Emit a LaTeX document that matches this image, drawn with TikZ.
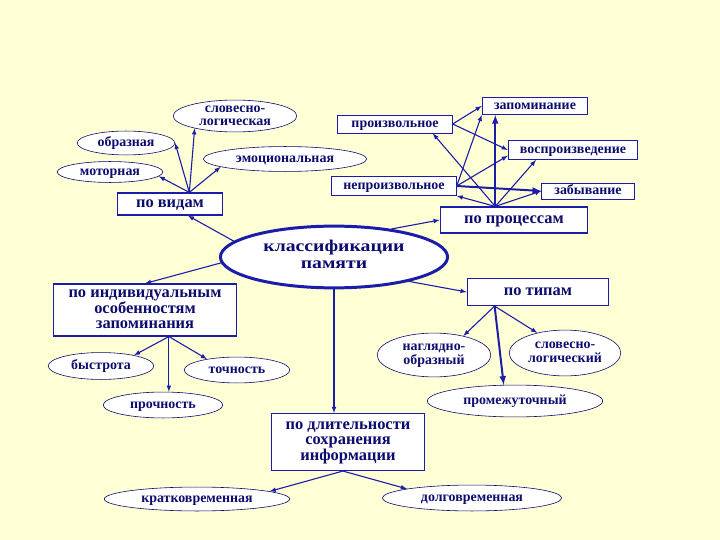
\documentclass[tikz,border=0pt]{standalone}
\usepackage{fontspec}
\setmainfont{Liberation Serif}
\newfontfamily\widefont{Liberation Serif}[FakeStretch=1.2]
\usepackage{xcolor}
\usetikzlibrary{shapes.geometric,positioning,calc,arrows.meta}

\definecolor{bgyel}{RGB}{255,255,214}
\definecolor{lineblue}{RGB}{28,28,170}
\definecolor{txtnavy}{RGB}{12,12,110}

\newcommand{\smallfnt}{\bfseries\fontsize{14}{13}\selectfont}
\newcommand{\medfnt}{\bfseries\fontsize{16.5}{15}\selectfont}
\newcommand{\rootfnt}{\widefont\bfseries\fontsize{16.5}{17}\selectfont}
\newcommand{\stk}[1]{\begin{tabular}{@{}c@{}}#1\end{tabular}}

\tikzset{
  rbox/.style={draw=lineblue, line width=1.3pt, fill=white, inner sep=0pt,
    text=txtnavy, font=\medfnt, text height=7.6bp, text depth=0pt},
  sbox/.style={draw=lineblue, line width=0.9pt, fill=white, inner sep=0pt,
    text=txtnavy, font=\smallfnt, text height=6.4bp, text depth=0pt},
  oval/.style={ellipse, draw=txtnavy, line width=0.6pt, fill=white, inner sep=0pt,
    text=txtnavy, font=\smallfnt, text height=6.4bp, text depth=0pt},
  root/.style={ellipse, draw=lineblue, line width=3pt, fill=white, inner sep=0pt,
    text=txtnavy, font=\rootfnt},
  stack/.style={text height={}, text depth={}, inner ysep=-3bp},
  arr/.style={draw=lineblue, line width=1.1pt, ->, >=latex},
  fat/.style={line width=2pt}
}

\begin{document}
\begin{tikzpicture}[x=1bp, y=-1bp]
  \fill[bgyel] (0,0) rectangle (720,540);
  \useasboundingbox (0,0) rectangle (720,540);

  % Centre
  \node[root, minimum width=228, minimum height=62] (cls) at (334,257) {\stk{классификации\\памяти}};

  % Kinds
  \node[rbox, minimum width=105, minimum height=22] (vid) at (170,204) {по видам};
  \node[oval, stack, minimum width=124, minimum height=32] (slv) at (235,116) {\stk{словесно-\\логическая}};
  \node[oval, minimum width=98, minimum height=24] (obr) at (126,143) {образная};
  \node[oval, minimum width=106, minimum height=21] (mot) at (110,172) {моторная};
  \node[oval, minimum width=164, minimum height=25] (emo) at (285,159) {эмоциональная};
  \draw[arr] (vid.31) -- (mot.-5);
  \draw[arr] (vid.31) -- (obr.east);
  \draw[arr] (vid.31) -- (slv.197);
  \draw[arr] (vid.31) -- (emo.187);

  % Processes
  \node[sbox, minimum width=115, minimum height=18] (arb) at (395,124) {произвольное};
  \node[sbox, minimum width=106, minimum height=17] (zap) at (535,106) {запоминание};
  \node[sbox, minimum width=130, minimum height=19] (vos) at (573,150) {воспроизведение};
  \node[sbox, minimum width=125, minimum height=19] (nep) at (394,186) {непроизвольное};
  \node[sbox, minimum width=93, minimum height=16] (zab) at (588,191) {забывание};
  \node[rbox, minimum width=148, minimum height=26] (prc) at (514,220) {по процессам};
  \draw[arr] (prc.144) -- (arb.-14);
  \draw[arr, fat] (prc.144) -- (zap.south -| prc.144);
  \draw[arr] (prc.144) -- (vos.195);
  \draw[arr] (prc.144) -- (zab.west);
  \draw[arr] (prc.144) -- (nep.south east);
  \draw[arr] (arb.east) -- (zap.west);
  \draw[arr] (arb.east) -- (vos.west);
  \draw[arr] (nep.east) -- (zap.south west);
  \draw[arr] (nep.east) -- (vos.185);
  \draw[arr, fat] (nep.east) -- (zab.west);

  % Individual features
  \node[rbox, stack, minimum width=184, minimum height=52] (ind) at (145,310) {\stk{по индивидуальным\\особенностям\\запоминания}};
  \node[oval, minimum width=106, minimum height=27] (bys) at (101,366) {быстрота};
  \node[oval, minimum width=106, minimum height=26] (toc) at (237,370) {точность};
  \node[oval, minimum width=120, minimum height=26] (pro) at (163,405) {прочность};
  \draw[arr] (ind.-48.5) -- (bys.18);
  \draw[arr] (ind.-48.5) -- (toc.160);
  \draw[arr] (ind.-48.5) -- (pro.north -| ind.-48.5);

  % Types
  \node[rbox, minimum width=142, minimum height=27] (typ) at (538,292) {по типам};
  \node[oval, stack, minimum width=114, minimum height=44] (nag) at (434,355) {\stk{наглядно-\\образный}};
  \node[oval, stack, minimum width=112, minimum height=46] (slg) at (565,353) {\stk{словесно-\\логический}};
  \node[oval, minimum width=176, minimum height=32] (prm) at (515,401) {промежуточный};
  \draw[arr] (typ.198.6) -- (nag.33);
  \draw[arr] (typ.198.6) -- (slg.144);
  \draw[arr, fat] (typ.198.6) -- (prm.125);

  % Duration
  \node[rbox, stack, minimum width=153, minimum height=57] (dlt) at (348,442) {\stk{по длительности\\сохранения\\информации}};
  \node[oval, minimum width=186, minimum height=24] (krt) at (197,499) {кратковременная};
  \node[oval, minimum width=180, minimum height=26] (dlg) at (472,498) {долговременная};
  \draw[arr] (dlt.-100) -- (krt.6.5);
  \draw[arr] (dlt.-100) -- (dlg.172);

  % Links from the centre
  \draw[arr] (cls.171) -- (vid.-33);
  \draw[arr] (cls.183) -- (ind.north);
  \draw[arr] (cls.26) -- (prc.west);
  \draw[arr] (cls.-18) -- (typ.west);
  \draw[arr] (cls.south) -- (cls.south |- dlt.north);
\end{tikzpicture}
\end{document}
